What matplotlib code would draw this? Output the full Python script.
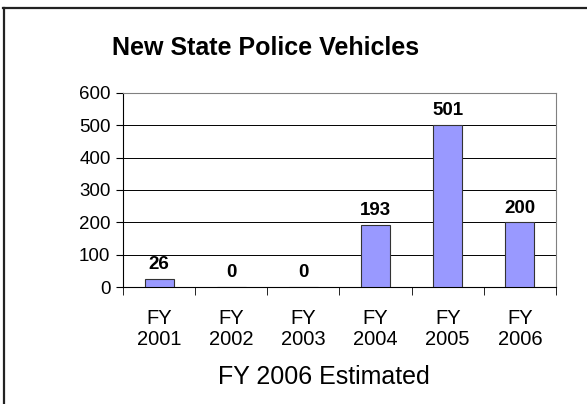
import matplotlib
matplotlib.use('Agg')
import matplotlib.pyplot as plt
from matplotlib.lines import Line2D
import numpy as np

plt.rcParams['font.family'] = ['Liberation Sans', 'DejaVu Sans']

categories = ['FY\n2001', 'FY\n2002', 'FY\n2003', 'FY\n2004', 'FY\n2005', 'FY\n2006']
vehicles = [26, 0, 0, 193, 501, 200]
y_ticks = [0, 100, 200, 300, 400, 500, 600]

W, H = 587, 404
fig = plt.figure(figsize=(W / 100, H / 100), dpi=100)
ax = fig.add_axes([123 / W, 1 - 287 / H, 433 / W, 194 / H])

x = np.arange(len(categories))
ax.bar(x, vehicles, width=0.4, color='#9999FF', edgecolor='#333333', linewidth=0.8, zorder=3)

# value labels above each bar
for xi, v in zip(x, vehicles):
    ax.annotate(str(v), (xi, v), xytext=(0, 4), textcoords='offset points',
                ha='center', va='bottom', fontsize=13.5, fontweight='bold')

ax.set_xlim(-0.5, len(categories) - 0.5)
ax.set_ylim(0, 600)
ax.set_yticks(y_ticks)
ax.set_yticklabels([str(t) for t in y_ticks], fontsize=13.5)
ax.yaxis.grid(True, color='black', linewidth=0.7, zorder=0)
ax.set_axisbelow(True)

ax.set_xticks(x)
ax.set_xticklabels(categories, fontsize=14.5, linespacing=1.15)
ax.set_xticks(np.arange(-0.5, len(categories)), minor=True)
ax.tick_params(axis='x', which='major', length=0, pad=16)
ax.tick_params(axis='x', which='minor', length=6, direction='out', color='black')
ax.tick_params(axis='y', length=5, direction='out', pad=4)

for side in ['top', 'right']:
    ax.spines[side].set_color('#808080')
ax.spines['left'].set_color('black')
ax.spines['bottom'].set_color('black')

fig.text(266 / W, 1 - 48 / H, 'New State Police Vehicles', ha='center', va='center',
         fontsize=18, fontweight='bold')
fig.text(324 / W, 1 - 377 / H, 'FY 2006 Estimated', ha='center', va='center',
         fontsize=18)

# frame: only top and left edges are visible
fig.lines.append(Line2D([3.5 / W, 3.5 / W], [0, 1 - 8 / H], transform=fig.transFigure,
                        color='#222222', linewidth=1.6))
fig.lines.append(Line2D([3 / W, 1], [1 - 8 / H, 1 - 8 / H], transform=fig.transFigure,
                        color='#222222', linewidth=1.6))

fig.savefig('out.png', dpi=100)
